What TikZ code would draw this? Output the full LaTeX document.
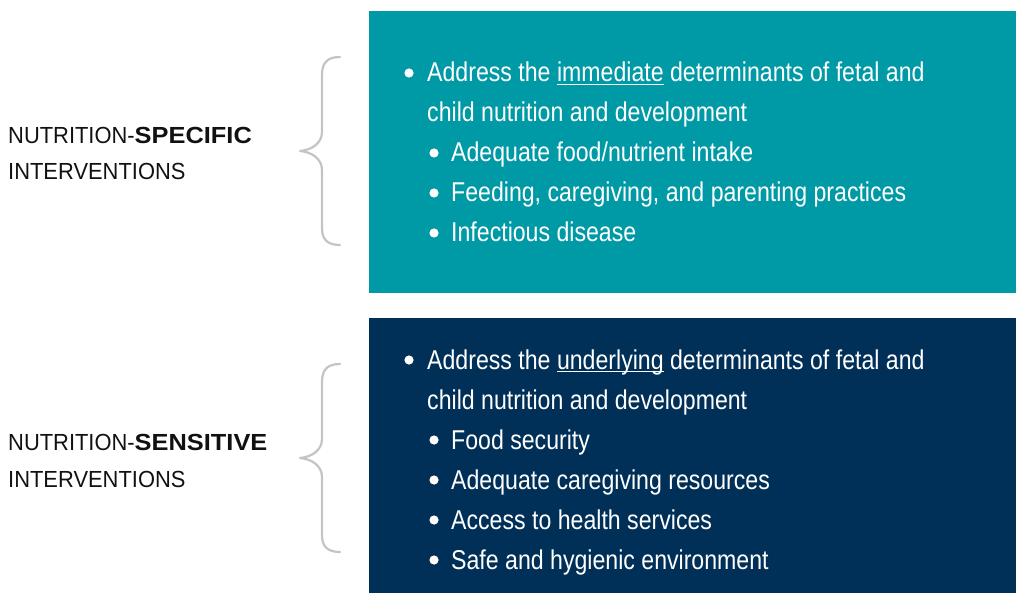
\documentclass[tikz,border=0pt]{standalone}
\usepackage{fontspec}
\setmainfont{Liberation Sans}[FakeStretch=0.85]
\newfontfamily\labelfont{Liberation Sans}[FakeStretch=0.94]
\newfontfamily\labelbold{Liberation Sans}[FakeStretch=1.09]
\definecolor{tealbox}{HTML}{009AA6}
\definecolor{navybox}{HTML}{003057}
\definecolor{bracegray}{HTML}{C4C4C4}
\definecolor{labelink}{HTML}{111111}
\newcommand\myul[1]{\setbox0=\hbox{#1}\rlap{\rule[-3pt]{\wd0}{1.1pt}}\box0\relax}
\begin{document}
\begin{tikzpicture}[x=1pt,y=-1pt,
  txt/.style={anchor=base west, inner sep=0pt, text=white, font=\fontsize{27.2}{32}\selectfont},
  lbl/.style={anchor=base west, inner sep=0pt, text=labelink, font=\labelfont\fontsize{23.3}{28}\selectfont},
  dot/.style={circle, fill=white, inner sep=0pt, minimum size=9.2pt},
  bracestyle/.style={draw=bracegray, line width=2.2pt, line cap=round, line join=round}]
\useasboundingbox (0,0) rectangle (1016,593);
% boxes
\fill[tealbox] (369,11) rectangle (1016,293);
\fill[navybox] (369,318) rectangle (1016,593);
% left labels
\node[lbl] (specA) at (8,143.3) {NUTRITION-{\labelbold\bfseries SPECIFIC}};
\node[lbl] (specB) at (8,180) {INTERVENTIONS};
\node[lbl] (sensA) at (8,450.3) {NUTRITION-{\labelbold\bfseries SENSITIVE}};
\node[lbl] (sensB) at (8,487) {INTERVENTIONS};
% braces
\coordinate (b1t) at (340,57);
\coordinate (b1b) at (340,245);
\draw[bracestyle] (b1t) .. controls (328,57) and (322,62) .. (322,75) -- (322,132)
  .. controls (322,143) and (312,150) .. (300,151) .. controls (312,152) and (322,159) .. (322,170)
  -- (322,228) .. controls (322,240) and (328,245) .. (b1b);
\coordinate (b2t) at (340,364);
\coordinate (b2b) at (340,552);
\draw[bracestyle] (b2t) .. controls (328,364) and (322,369) .. (322,382) -- (322,439)
  .. controls (322,450) and (312,457) .. (300,458) .. controls (312,459) and (322,466) .. (322,477)
  -- (322,535) .. controls (322,547) and (328,552) .. (b2b);
% top box text
\node[dot] (d1) at (409,73) {};
\node[txt] (t1) at (427,82) {Address the \myul{immediate} determinants of fetal and};
\node[txt] (t2) at (427,122) {child nutrition and development};
\node[dot] (d2) at (434,153) {};
\node[txt] (t3) at (451,162) {Adequate food/nutrient intake};
\node[dot] (d3) at (434,193) {};
\node[txt] (t4) at (451,202) {Feeding, caregiving, and parenting practices};
\node[dot] (d4) at (434,233) {};
\node[txt] (t5) at (451,242) {Infectious disease};
% bottom box text
\node[dot] (e1) at (409,360) {};
\node[txt] (u1) at (427,369) {Address the \myul{underlying} determinants of fetal and};
\node[txt] (u2) at (427,409) {child nutrition and development};
\node[dot] (e2) at (434,440) {};
\node[txt] (u3) at (451,449) {Food security};
\node[dot] (e3) at (434,480) {};
\node[txt] (u4) at (451,489) {Adequate caregiving resources};
\node[dot] (e4) at (434,520) {};
\node[txt] (u5) at (451,529) {Access to health services};
\node[dot] (e5) at (434,560) {};
\node[txt] (u6) at (451,569) {Safe and hygienic environment};
\end{tikzpicture}
\end{document}
